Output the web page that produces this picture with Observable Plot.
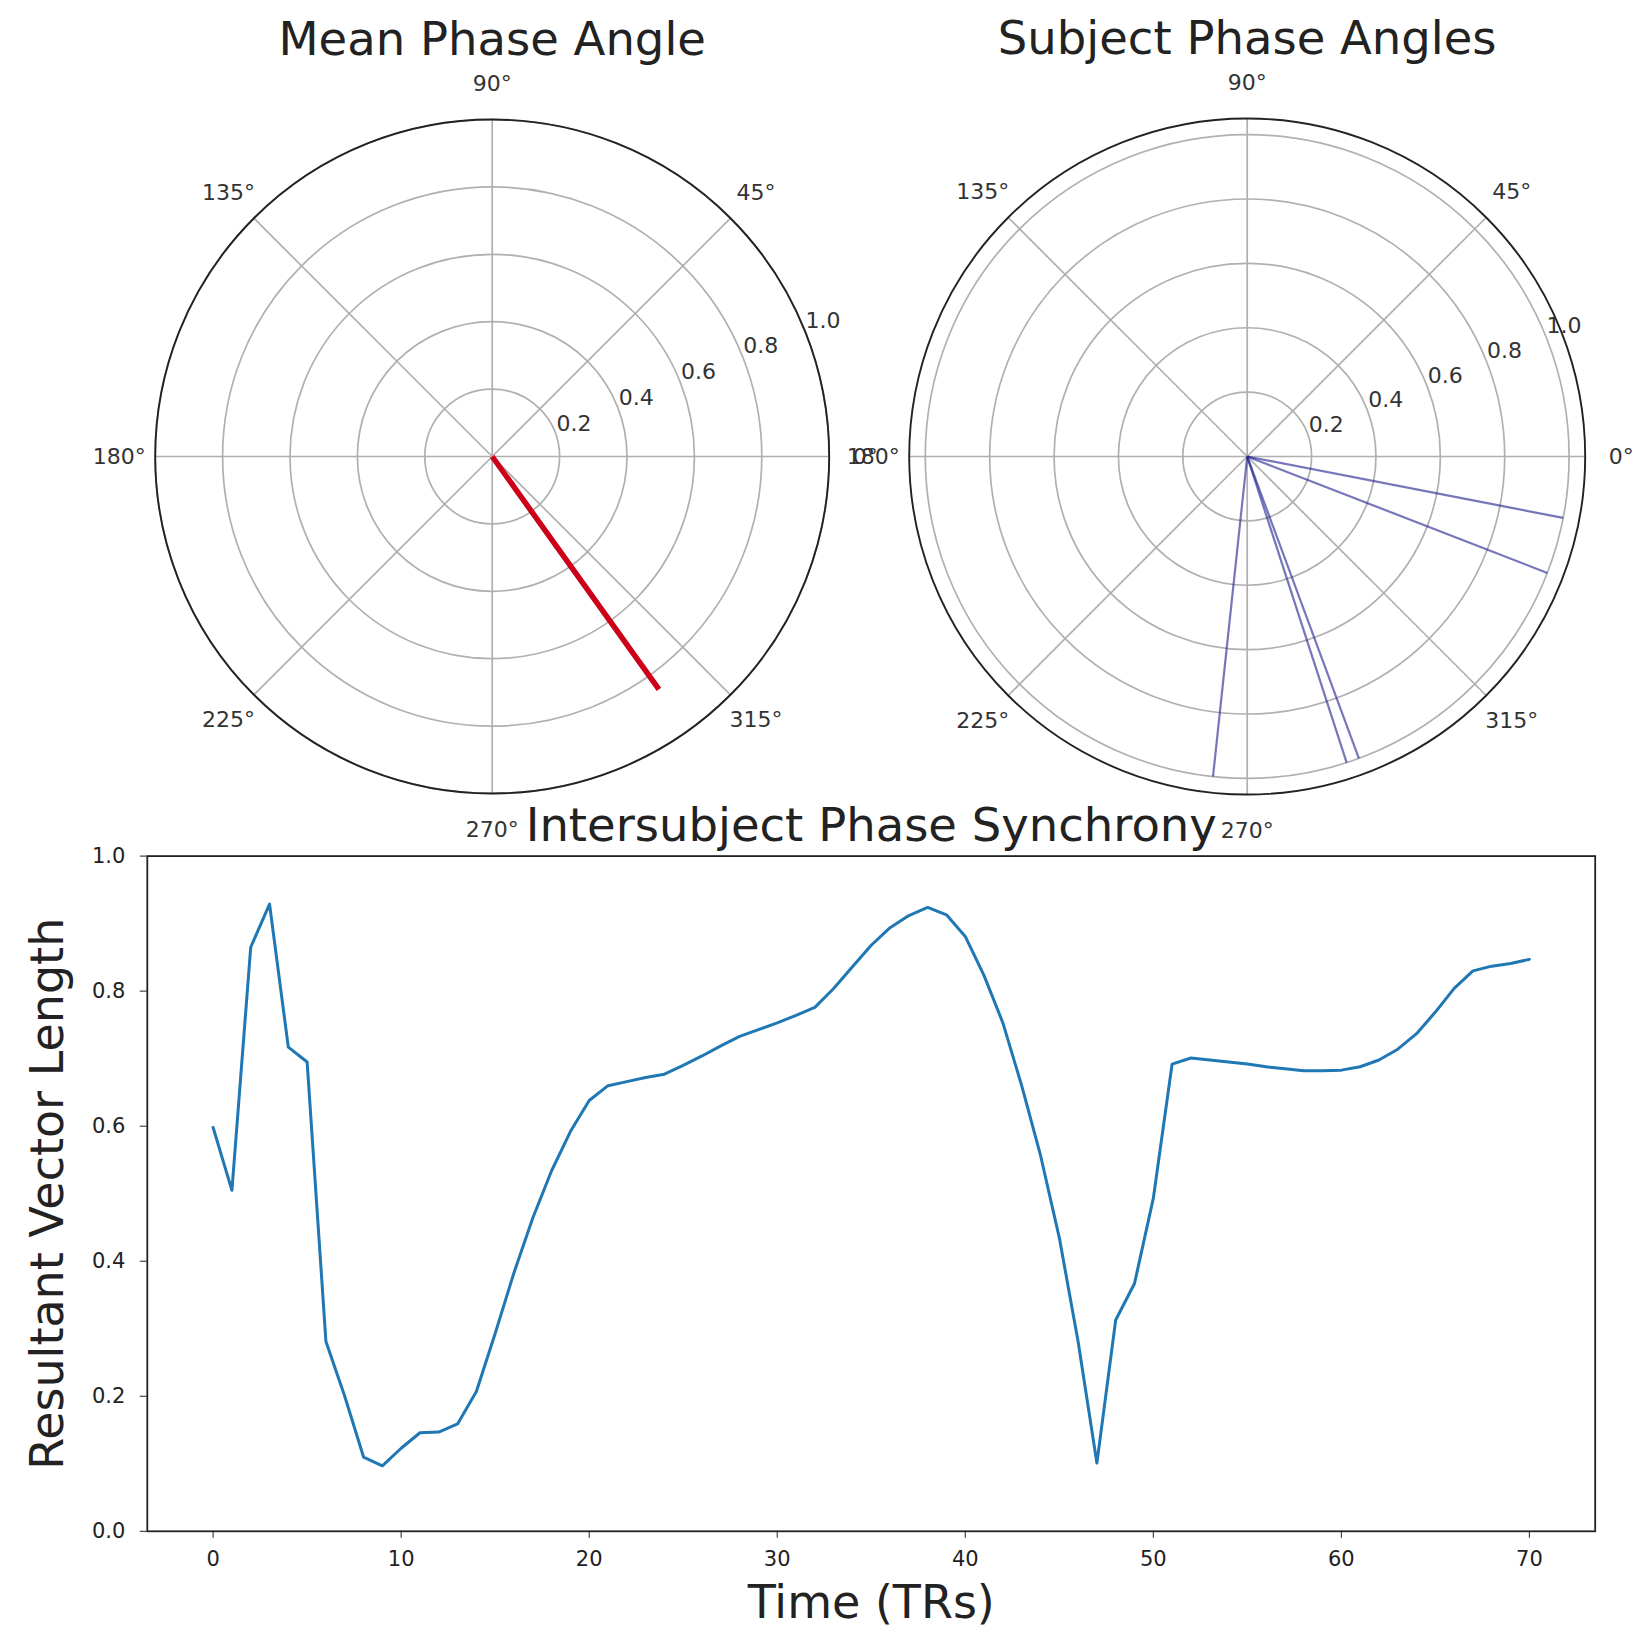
<!DOCTYPE html>
<html><head><meta charset="utf-8">
<script src="https://cdn.jsdelivr.net/npm/d3@7"></script>
<script src="https://cdn.jsdelivr.net/npm/@observablehq/plot@0.6"></script>
<style>
html,body{margin:0;padding:0;background:#fff;}
#wrap{position:relative;width:1644px;height:1628px;overflow:hidden;font-family:"DejaVu Sans";}
#wrap svg{position:absolute;left:0;}
</style></head><body><div id="wrap"></div>
<script>
// ---- data ----
const thetaTicks = [0, 45, 90, 135, 180, 225, 270, 315];
const radialTicks = [0.2, 0.4, 0.6, 0.8, 1.0];
const meanAngleDeg = [305.6];
const meanLength = [0.85];
const subjectAnglesDeg = [349.0, 338.8, 290.3, 288.0, 263.9];
const subjectLengths = [1.0, 1.0, 1.0, 1.0, 1.0];
const resultantLength = [
  0.598, 0.505, 0.865, 0.929, 0.717, 0.695, 0.281, 0.200, 0.110, 0.097,
  0.123, 0.146, 0.147, 0.159, 0.207, 0.293, 0.383, 0.464, 0.534, 0.592,
  0.638, 0.660, 0.666, 0.672, 0.677, 0.690, 0.704, 0.719, 0.733, 0.743,
  0.753, 0.764, 0.776, 0.804, 0.836, 0.868, 0.894, 0.912, 0.924, 0.913,
  0.881, 0.823, 0.753, 0.660, 0.557, 0.435, 0.281, 0.101, 0.313, 0.367,
  0.493, 0.692, 0.701, 0.698, 0.695, 0.692, 0.688, 0.685, 0.682, 0.682,
  0.683, 0.688, 0.698, 0.714, 0.737, 0.769, 0.804, 0.830, 0.837, 0.841,
  0.847
];
const timeTicks = [0, 10, 20, 30, 40, 50, 60, 70];
const yTicks = [0, 0.2, 0.4, 0.6, 0.8, 1.0];

const wrap = document.getElementById("wrap");
const rad = d => d * Math.PI / 180;
const FONT = "DejaVu Sans";

function polar({cx, cy, R, rmax, title, vectors, stroke, strokeWidth, strokeOpacity}) {
  const labR = rmax * (R + 36) / R;
  return Plot.plot({
    width: 1644, height: 860, margin: 0,
    style: {background: "transparent", overflow: "visible", fontFamily: FONT, color: "#222"},
    x: {domain: [-rmax, rmax], range: [cx - R, cx + R], axis: null},
    y: {domain: [-rmax, rmax], range: [cy + R, cy - R], axis: null},
    r: {type: "linear", domain: [0, rmax], range: [0, R]},
    marks: [
      Plot.dot(radialTicks, {x: () => 0, y: () => 0, r: d => d, stroke: "#b0b0b0", strokeWidth: 1.7, fill: "none"}),
      Plot.link(thetaTicks, {x1: () => 0, y1: () => 0,
        x2: a => rmax * Math.cos(rad(a)), y2: a => rmax * Math.sin(rad(a)),
        stroke: "#b0b0b0", strokeWidth: 1.7}),
      Plot.dot([rmax], {x: () => 0, y: () => 0, r: d => d, stroke: "#222", strokeWidth: 1.9, fill: "none"}),
      Plot.link(vectors, {x1: () => 0, y1: () => 0,
        x2: d => d.r * Math.cos(rad(d.a)), y2: d => d.r * Math.sin(rad(d.a)),
        stroke, strokeWidth, strokeOpacity}),
      Plot.text(thetaTicks, {x: a => labR * Math.cos(rad(a)), y: a => labR * Math.sin(rad(a)),
        text: a => `${a}°`, fontSize: 22, fill: "#333"}),
      Plot.text(radialTicks, {x: r => r * Math.cos(rad(22.5)), y: r => r * Math.sin(rad(22.5)),
        text: d => d.toFixed(1), textAnchor: "start", lineAnchor: "bottom", dx: 2, fontSize: 22, fill: "#333"}),
      Plot.text([title], {x: () => 0, y: () => rmax, text: d => d, lineAnchor: "bottom",
        dy: -64.5, fontSize: 46.5, fill: "#222"})
    ]
  });
}

const meanVec = meanAngleDeg.map((a, i) => ({a, r: meanLength[i]}));
const subjVec = subjectAnglesDeg.map((a, i) => ({a, r: subjectLengths[i]}));

const p1 = polar({cx: 491.7, cy: 456, R: 337, rmax: 1.0, title: "Mean Phase Angle",
  vectors: meanVec, stroke: "#cc0018", strokeWidth: 5.5, strokeOpacity: 1});
p1.style.top = "0px";
wrap.appendChild(p1);

const p2 = polar({cx: 1246.7, cy: 456, R: 338, rmax: 1.05, title: "Subject Phase Angles",
  vectors: subjVec, stroke: "#1a1a8c", strokeWidth: 2.2, strokeOpacity: 0.6});
p2.style.top = "0px";
wrap.appendChild(p2);

const series = resultantLength.map((v, i) => ({t: i, v}));
const chart = Plot.plot({
  width: 1644, height: 838,
  marginLeft: 146.8, marginRight: 49.3, marginTop: 65.6, marginBottom: 97.2,
  style: {background: "transparent", overflow: "visible", fontFamily: FONT, fontSize: "21px", color: "#222"},
  x: {domain: [-3.5, 73.5], ticks: timeTicks, tickSize: 7, tickPadding: 13, label: null},
  y: {domain: [0, 1], ticks: yTicks, tickFormat: d3.format(".1f"), tickSize: 7, tickPadding: 15, label: null},
  marks: [
    Plot.line(series, {x: "t", y: "v", stroke: "#1f77b4", strokeWidth: 3}),
    Plot.frame({stroke: "#222", strokeWidth: 1.8}),
    Plot.text(["Intersubject Phase Synchrony"], {frameAnchor: "top", lineAnchor: "bottom", dy: -15.6,
      text: d => d, fontSize: 46.5, fill: "#222"}),
    Plot.text(["Time (TRs)"], {frameAnchor: "bottom", lineAnchor: "bottom", dy: 87,
      text: d => d, fontSize: 46, fill: "#222"}),
    Plot.text(["Resultant Vector Length"], {frameAnchor: "left", rotate: -90, textAnchor: "middle",
      lineAnchor: "bottom", dx: -84, text: d => d, fontSize: 46, fill: "#222"})
  ]
});
chart.style.top = "790px";
wrap.appendChild(chart);
</script></body></html>
